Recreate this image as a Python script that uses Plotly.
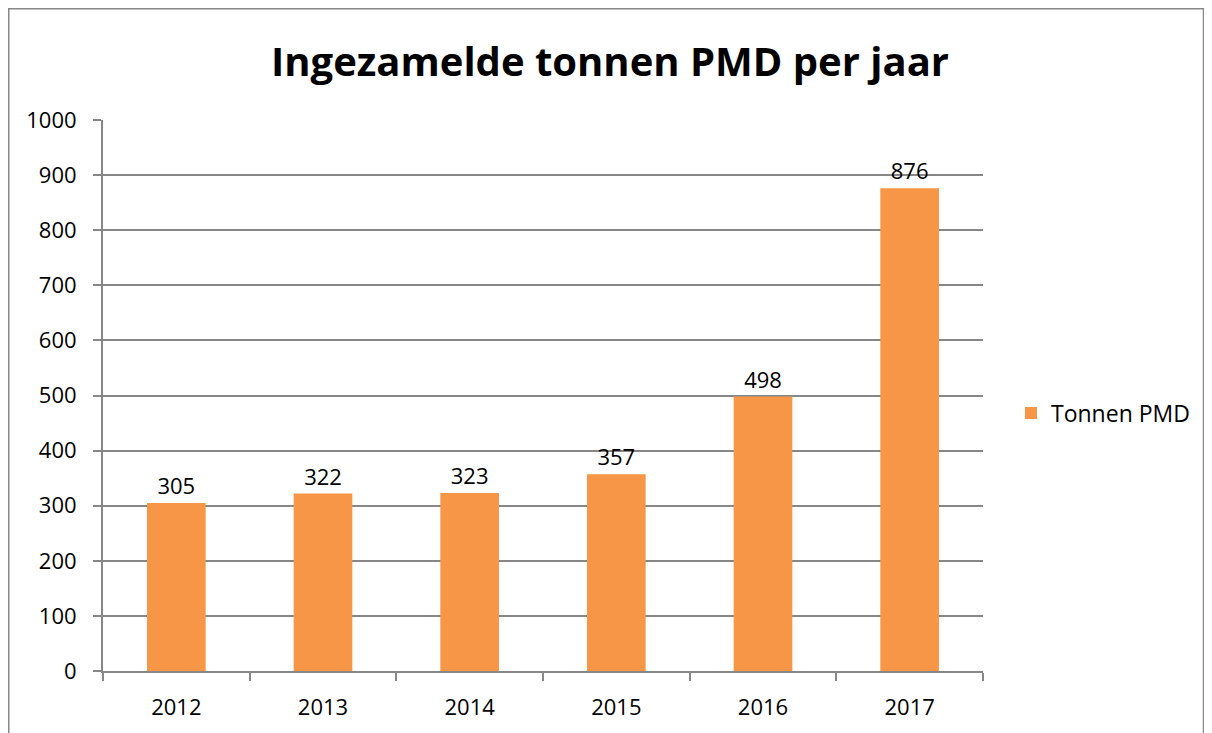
import plotly.graph_objects as go

years = ["2012", "2013", "2014", "2015", "2016", "2017"]
tonnen = [305, 322, 323, 357, 498, 876]
series_name = "Tonnen PMD"
title_text = "Ingezamelde tonnen PMD per jaar"

FONT = "Open Sans"
GRID = "#878787"
BAR = "#F79646"

W, H = 1212, 733
OFF = 8  # page body margin offset
L, R, T, B = 103 - OFF, W - (983 - OFF), 120 - OFF, H - (671 - OFF)

fig = go.Figure()
fig.add_trace(go.Bar(
    x=years, y=tonnen, name=series_name,
    marker=dict(color=BAR, line=dict(width=0)),
    text=[str(v) for v in tonnen], textposition="outside",
    textfont=dict(family=FONT, size=22, color="#000000"),
    cliponaxis=False,
))

pw, ph = W - L - R, H - T - B
def px_x(p):  # screen pixel -> paper x
    return (p - OFF - L) / pw
def px_y(p):  # screen pixel -> paper y
    return (H - B - (p - OFF)) / ph

fig.add_shape(type="rect", xref="paper", yref="paper",
              x0=(0.75 - L) / pw, x1=px_x(1203.5), y0=px_y(820), y1=(H - B - 0.75) / ph,
              line=dict(color="#888888", width=1.5), fillcolor="rgba(0,0,0,0)", layer="below")

fig.update_layout(
    width=W, height=H,
    margin=dict(l=L, r=R, t=T, b=B, autoexpand=False),
    paper_bgcolor="white", plot_bgcolor="white",
    font=dict(family=FONT, size=22, color="#000000"),
    title=dict(text="<b>" + title_text + "</b>", xref="container", x=(610 - OFF) / W,
               xanchor="center", yref="container", y=1 - (62 - OFF) / H, yanchor="middle",
               font=dict(family=FONT, size=40, color="#000000")),
    bargap=0.6,
    showlegend=True,
    legend=dict(x=px_x(1011), xanchor="left", y=px_y(413), yanchor="middle",
                font=dict(family=FONT, size=23, color="#000000"),
                itemwidth=30, bgcolor="rgba(0,0,0,0)"),
    xaxis=dict(type="category", showline=True, linecolor=GRID, linewidth=2,
               ticks="outside", tickson="boundaries", ticklen=8, tickcolor=GRID, tickwidth=2,
               showgrid=False, tickfont=dict(family=FONT, size=22),
               ticklabelstandoff=16),
    yaxis=dict(range=[0, 1000], dtick=100, showline=True, linecolor=GRID, linewidth=2,
               ticks="outside", ticklen=8, tickcolor=GRID, tickwidth=2,
               showgrid=True, gridcolor=GRID, gridwidth=2, zeroline=False,
               tickfont=dict(family=FONT, size=22), ticklabelstandoff=12),
)

fig.write_html("out.html")
